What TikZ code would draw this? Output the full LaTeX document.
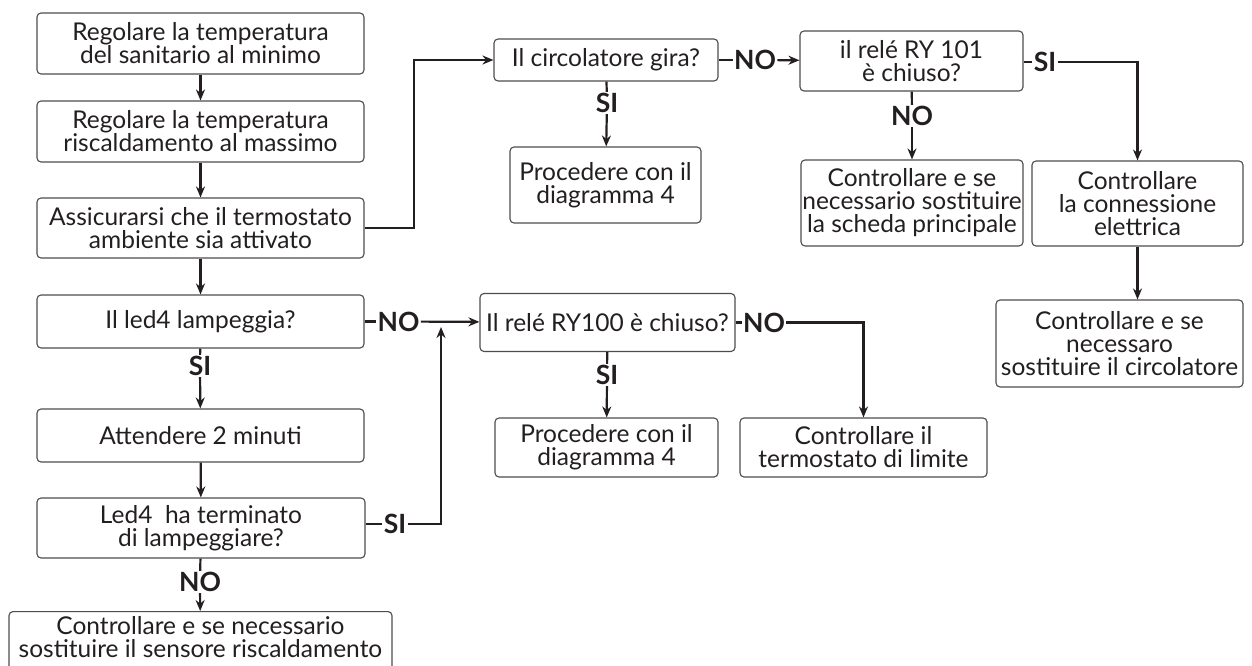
\documentclass[tikz,border=0pt]{standalone}
\usepackage{fontspec}
\setmainfont{Lato}
\usetikzlibrary{arrows.meta}
\definecolor{ink}{HTML}{231F20}
\tikzset{
  box/.style={draw=ink!80, line width=1.1pt, rounded corners=4pt, align=center, text=ink,
    inner sep=0pt, font=\fontsize{24.5}{23}\selectfont},
  lbl/.style={font=\fontsize{26.5}{22}\selectfont\bfseries, text=ink, inner sep=1.2pt},
  conn/.style={draw=ink, line width=2.2pt},
  arr/.style={conn, -{Stealth[length=11pt,width=9pt]}}
}
\begin{document}
\begin{tikzpicture}[x=1pt,y=-1pt]
\clip (0,0) rectangle (1252,666);
\fill[white] (0,0) rectangle (1252,666);
% left column
\node[box, minimum width=327, minimum height=61] (b1) at (200.5,43.5) {Regolare la temperatura\\del sanitario al minimo};
\node[box, minimum width=327, minimum height=61] (b2) at (200.5,131.5) {Regolare la temperatura\\riscaldamento al massimo};
\node[box, minimum width=327, minimum height=60] (b3) at (200.5,228) {Assicurarsi che il termostato\\ambiente sia attivato};
\node[box, minimum width=327, minimum height=53] (b4) at (200.5,321.5) {Il led4 lampeggia?};
\node[box, minimum width=327, minimum height=53] (b5) at (200.5,435.5) {Attendere 2 minuti};
\node[box, minimum width=328, minimum height=60] (b6) at (201,528) {Led4\ \ ha terminato\\di lampeggiare?};
\node[box, minimum width=383, minimum height=90, anchor=north] (b7) at (200.5,611) {};
\node[box, draw=none, anchor=center] (b7t) at (200.5,637) {Controllare e se necessario\\sostituire il sensore riscaldamento};
% top middle
\node[box, minimum width=224, minimum height=42] (circ) at (606,60) {Il circolatore gira?};
\node[box, minimum width=191, minimum height=76] (p1) at (605.5,185) {Procedere con il\\diagramma 4};
% top right
\node[box, minimum width=223, minimum height=60] (r101) at (911.5,61) {il relé RY 101\\è chiuso?};
\node[box, minimum width=222, minimum height=86] (sch) at (912,203) {Controllare e se\\necessario sostituire\\la scheda principale};
\node[box, minimum width=211, minimum height=85] (conn) at (1137.5,203.5) {Controllare\\la connessione\\elettrica};
\node[box, minimum width=247, minimum height=87] (circf) at (1119.5,343.5) {Controllare e se\\necessaro\\sostituire il circolatore};
% middle
\node[box, minimum width=255, minimum height=58] (r100) at (607.5,322.5) {Il relé RY100 è chiuso?};
\node[box, minimum width=223, minimum height=59] (p2) at (606.5,447.5) {Procedere con il\\diagramma 4};
\node[box, minimum width=247, minimum height=59] (lim) at (863.5,447.5) {Controllare il\\termostato di limite};
% labels
\node[lbl] (l1) at (200,366) {SI};
\node[lbl] (l2) at (200,582) {NO};
\node[lbl] (l3) at (607,103) {SI};
\node[lbl] (l4) at (755,60) {NO};
\node[lbl] (l5) at (912,116) {NO};
\node[lbl] (l6) at (1045,62) {SI};
\node[lbl] (l7) at (398.5,321.5) {NO};
\node[lbl] (l8) at (395,524) {SI};
\node[lbl] (l9) at (607,375) {SI};
\node[lbl] (l10) at (764,322.5) {NO};
\coordinate (j1) at (414,228);
\coordinate (j2) at (441,327);
% connectors
\draw[arr] (b1) -- (b2);
\draw[arr] (b2) -- (b3);
\draw[arr] (b3) -- (b4);
\draw[conn] (b4) -- (l1);
\draw[arr] (l1) -- (b5);
\draw[arr] (b5) -- (b6);
\draw[conn] (b6) -- (l2);
\draw[arr] (l2) -- (b7);
\draw[arr] (b3.east) -- (j1) |- (circ.west);
\draw[conn] (circ) -- (l3);
\draw[arr] (l3) -- (p1);
\draw[conn] (circ) -- (l4);
\draw[arr] (l4) -- (r101);
\draw[conn] (r101) -- (l5);
\draw[arr] (l5) -- (sch);
\draw[conn] (r101.east |- l6) -- (l6);
\draw[arr] (l6) -| (conn.north);
\draw[arr] (conn.south) -- (conn.south |- circf.north);
\draw[conn] (b4) -- (l7);
\draw[arr] (l7) -- (r100);
\draw[conn] (b6.east |- l8) -- (l8);
\draw[arr] (l8) -| (j2);
\draw[conn] (r100) -- (l9);
\draw[arr] (l9) -- (p2);
\draw[conn] (r100) -- (l10);
\draw[arr] (l10) -| (lim.north);
\end{tikzpicture}
\end{document}
